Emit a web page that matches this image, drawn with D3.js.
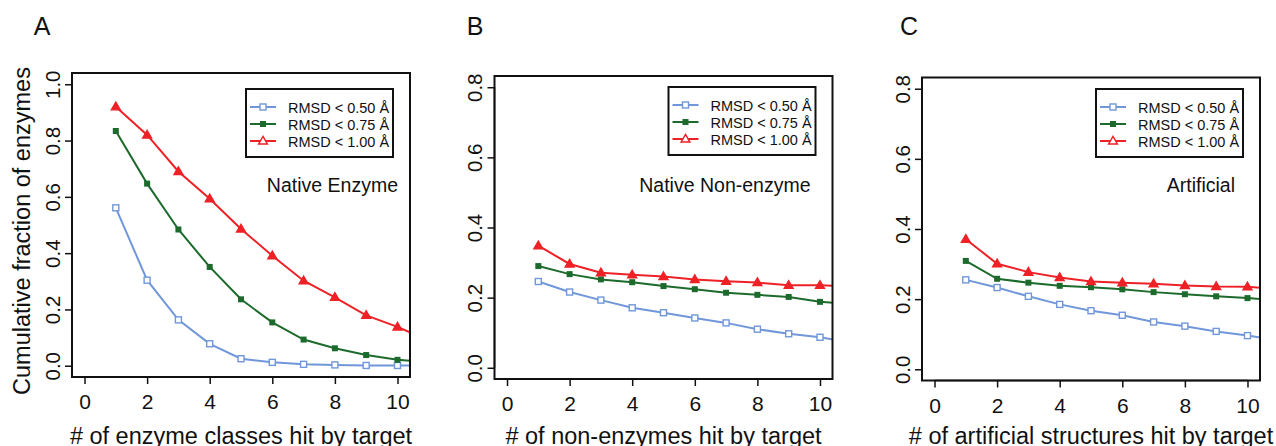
<!DOCTYPE html>
<html>
<head>
<meta charset="utf-8">
<title>Cumulative fraction hit by target</title>
<script src="https://d3js.org/d3.v7.min.js"></script>
<style>
  body { margin: 0; background: #fff; }
  text { font-family: "Liberation Sans", Arial, Helvetica, sans-serif; fill: #111; }
</style>
</head>
<body>
<div id="chart"></div>
<script>
// x = number of hits (1..11, last point is clipped by the box)
var hits = [1, 2, 3, 4, 5, 6, 7, 8, 9, 10, 11];
var seriesNames = ["RMSD < 0.50 Å", "RMSD < 0.75 Å", "RMSD < 1.00 Å"];

// panel A: native enzymes
var enzyme050 = [0.561, 0.304, 0.163, 0.078, 0.025, 0.012, 0.005, 0.003, 0.001, 0.001, 0.000];
var enzyme075 = [0.834, 0.647, 0.484, 0.351, 0.236, 0.154, 0.093, 0.062, 0.038, 0.021, 0.013];
var enzyme100 = [0.920, 0.820, 0.690, 0.593, 0.486, 0.391, 0.302, 0.243, 0.179, 0.138, 0.090];

// panel B: native non-enzymes
var nonenz050 = [0.246, 0.216, 0.193, 0.171, 0.157, 0.142, 0.128, 0.110, 0.097, 0.087, 0.072];
var nonenz075 = [0.290, 0.267, 0.252, 0.244, 0.233, 0.224, 0.214, 0.208, 0.202, 0.188, 0.181];
var nonenz100 = [0.348, 0.296, 0.271, 0.265, 0.260, 0.252, 0.247, 0.243, 0.235, 0.235, 0.233];

// panel C: artificial structures
var artif050 = [0.255, 0.233, 0.208, 0.185, 0.167, 0.154, 0.135, 0.123, 0.108, 0.096, 0.082];
var artif075 = [0.309, 0.258, 0.247, 0.238, 0.234, 0.228, 0.220, 0.214, 0.208, 0.203, 0.196];
var artif100 = [0.371, 0.301, 0.277, 0.262, 0.250, 0.247, 0.244, 0.239, 0.236, 0.235, 0.229];

var xTicks = [0, 2, 4, 6, 8, 10];
var yTicksA = [0, 0.2, 0.4, 0.6, 0.8, 1.0];
var yTicksBC = [0, 0.2, 0.4, 0.6, 0.8];

var colors = ["#7097d9", "#1c6b2c", "#ee2126"];

var panels = [
  {letter: "A", letterX: 42, left: 72, top: 73, bottom: 377, ymax: 1.0, yTicks: yTicksA,
   series: [enzyme050, enzyme075, enzyme100], note: "Native Enzyme", noteRight: 12, legTop: 89,
   xlabel: "# of enzyme classes hit by target", ylabel: "Cumulative fraction of enzymes"},
  {letter: "B", letterX: 475, left: 494.5, top: 76, bottom: 379, ymax: 0.8, yTicks: yTicksBC,
   series: [nonenz050, nonenz075, nonenz100], note: "Native Non-enzyme", noteRight: 22, legTop: 87,
   xlabel: "# of non-enzymes hit by target", ylabel: null},
  {letter: "C", letterX: 909, left: 922, top: 77.5, bottom: 380.5, ymax: 0.8, yTicks: yTicksBC,
   series: [artif050, artif075, artif100], note: "Artificial", noteRight: 25, legTop: 89,
   xlabel: "# of artificial structures hit by target", ylabel: null}
];

var W = 1276, H = 446, plotW = 338;

var svg = d3.select("#chart").append("svg")
  .attr("width", W).attr("height", H);

var tri = d3.symbol().type(d3.symbolTriangle).size(34);

function marker(g, k, x, y, inLegend) {
  if (k == 0) {
    g.append("rect").attr("x", x - 3).attr("y", y - 3).attr("width", 6).attr("height", 6)
      .attr("fill", "#fff").attr("stroke", colors[0]).attr("stroke-width", 1.4);
  } else if (k == 1) {
    g.append("rect").attr("x", x - 3).attr("y", y - 3).attr("width", 6).attr("height", 6)
      .attr("fill", colors[1]);
  } else {
    g.append("path").attr("d", tri).attr("transform", "translate(" + x + "," + (y + 0.5) + ")")
      .attr("fill", inLegend ? "#fff" : colors[2]).attr("stroke", colors[2]).attr("stroke-width", 1.4);
  }
}

panels.forEach(function(p, i) {
  var right = p.left + plotW;
  var x = d3.scaleLinear().domain([-0.4, 10.4]).range([p.left, right]);
  var pad = p.ymax * 0.04;
  var y = d3.scaleLinear().domain([-pad, p.ymax + pad]).range([p.bottom, p.top]);

  var g = svg.append("g");

  // clip lines to the plot box
  g.append("clipPath").attr("id", "clip" + i)
    .append("rect").attr("x", p.left).attr("y", p.top).attr("width", plotW).attr("height", p.bottom - p.top);

  var line = d3.line().x(function(d, j) { return x(hits[j]); }).y(function(d) { return y(d); });
  var plot = g.append("g").attr("clip-path", "url(#clip" + i + ")");
  p.series.forEach(function(s, k) {
    plot.append("path").datum(s).attr("d", line)
      .attr("fill", "none").attr("stroke", colors[k]).attr("stroke-width", 2);
  });
  p.series.forEach(function(s, k) {
    s.forEach(function(v, j) { marker(plot, k, x(hits[j]), y(v), false); });
  });

  // box
  g.append("rect").attr("x", p.left).attr("y", p.top).attr("width", plotW).attr("height", p.bottom - p.top)
    .attr("fill", "none").attr("stroke", "#111").attr("stroke-width", 2);

  // x axis
  var xa = g.append("g").attr("transform", "translate(0," + p.bottom + ")")
    .call(d3.axisBottom(x).tickValues(xTicks).tickSize(7).tickPadding(5).tickFormat(d3.format("d")));
  xa.select(".domain").attr("stroke", "#111").attr("stroke-width", 1.5)
    .attr("d", "M" + x(0) + ",0H" + x(10));
  xa.selectAll(".tick line").attr("stroke", "#111").attr("stroke-width", 1.5);
  xa.selectAll(".tick text").attr("font-size", 21).attr("font-family", null).attr("fill", "#111")
    .attr("y", 0).attr("dy", null).attr("transform", "translate(0,32)");

  // y axis, labels rotated like R
  var ya = g.append("g").attr("transform", "translate(" + p.left + ",0)")
    .call(d3.axisLeft(y).tickValues(p.yTicks).tickSize(7).tickFormat(d3.format(".1f")));
  ya.select(".domain").attr("stroke", "#111").attr("stroke-width", 1.5)
    .attr("d", "M0," + y(0) + "V" + y(p.ymax));
  ya.selectAll(".tick line").attr("stroke", "#111").attr("stroke-width", 1.5);
  ya.selectAll(".tick text").attr("font-size", 20.5).attr("font-family", null).attr("fill", "#111")
    .attr("x", null).attr("dy", null).attr("text-anchor", "middle")
    .attr("transform", "translate(-12.5,0) rotate(-90)");

  // panel letter
  g.append("text").attr("x", p.letterX).attr("y", 35).attr("text-anchor", "middle")
    .attr("font-size", 25).text(p.letter);

  // axis titles
  g.append("text").attr("x", p.left + plotW / 2).attr("y", 444).attr("text-anchor", "middle")
    .attr("font-size", 23.5).text(p.xlabel);
  if (p.ylabel) {
    g.append("text").attr("transform", "translate(30," + 231 + ") rotate(-90)")
      .attr("text-anchor", "middle").attr("font-size", 23.5).text(p.ylabel);
  }

  // annotation
  g.append("text").attr("x", right - p.noteRight).attr("y", 192).attr("text-anchor", "end")
    .attr("font-size", 19.5).text(p.note);

  // legend
  var lw = 147, lh = 68, lx = right - 17 - lw;
  var lg = g.append("g");
  lg.append("rect").attr("x", lx).attr("y", p.legTop).attr("width", lw).attr("height", lh)
    .attr("fill", "#fff").attr("stroke", "#111").attr("stroke-width", 2);
  seriesNames.forEach(function(name, k) {
    var ry = p.legTop + 18 + k * 17;
    lg.append("line").attr("x1", lx + 4).attr("x2", lx + 30).attr("y1", ry).attr("y2", ry)
      .attr("stroke", colors[k]).attr("stroke-width", 2);
    marker(lg, k, lx + 17, ry, true);
    lg.append("text").attr("x", lx + 42).attr("y", ry + 5.5).attr("font-size", 14.5).text(name);
  });
});
</script>
</body>
</html>
